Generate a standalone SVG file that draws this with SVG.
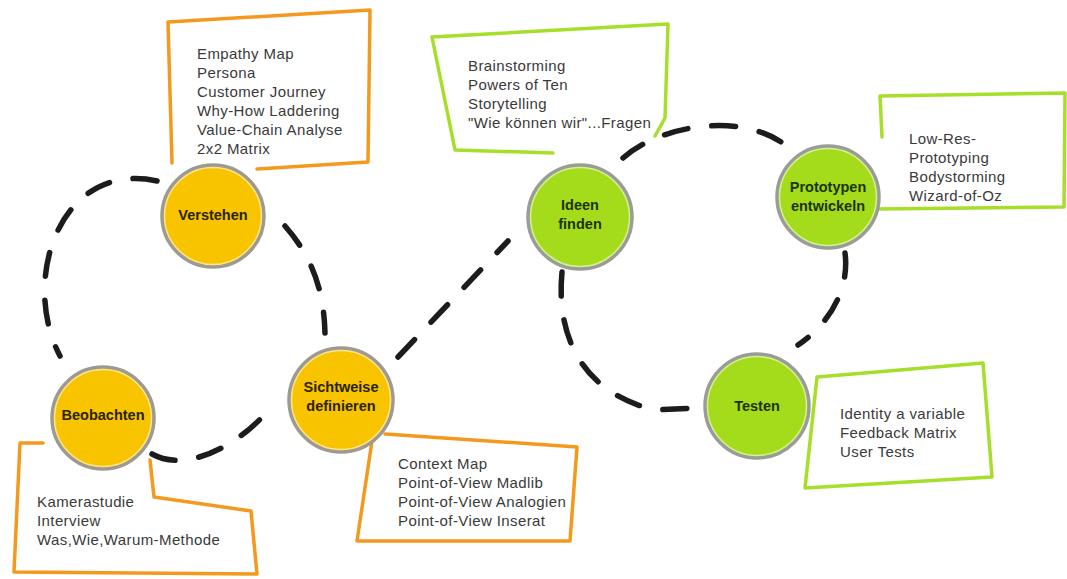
<svg xmlns="http://www.w3.org/2000/svg" width="1067" height="579" viewBox="0 0 1067 579">
<style>
.box{fill:none;stroke-width:3.5;stroke-linejoin:round;stroke-linecap:round}
.or{stroke:#F39A1E}
.gr{stroke:#A6DE2A}
.lst{font-family:"Liberation Sans",Arial,sans-serif;font-size:15px;letter-spacing:0.4px;fill:#3a3a3a}
.lbl{font-family:"Liberation Sans",Arial,sans-serif;font-size:14.5px;font-weight:bold;text-anchor:middle}
.yl{fill:#F8C400;stroke:#9d9a92;stroke-width:3.5}
.gn{fill:#A4DC1C;stroke:#9a9c96;stroke-width:3.5}
.hl{fill:none;stroke:#ffffff;stroke-opacity:0.55;stroke-width:1.5}
.dash{fill:none;stroke:#1c1c1c;stroke-width:5.5;stroke-linecap:round;stroke-dasharray:24 24}
</style>
<rect width="1067" height="579" fill="#ffffff"/>
<g id="connectors">
<path class="dash" d="M157,181 C60,160 20,280 60,356" stroke-dasharray="24 28"/>
<path class="dash" d="M285,226 C315,260 324,295 325,333" stroke-dasharray="26 22"/>
<path class="dash" d="M152,454 C190,475 245,440 272,406" stroke-dasharray="27 22"/>
<path class="dash" d="M398,357 L508,241" stroke-dasharray="30 26"/>
<path class="dash" d="M623,158 C660,125 740,112 784,144" stroke-dasharray="32 26"/>
<path class="dash" d="M845,253 C850,290 828,325 798,345" stroke-dasharray="46 22"/>
<path class="dash" d="M562,272 C555,345 590,395 655,410 L695,408" stroke-dasharray="40 30"/>
</g>
<g id="verstehen">
<path class="box or" d="M172,163 L168,22 L370,10 L368,162 L257,169"/>
<text class="lst" x="197" y="59">Empathy Map</text>
<text class="lst" x="197" y="78">Persona</text>
<text class="lst" x="197" y="97">Customer Journey</text>
<text class="lst" x="197" y="116">Why-How Laddering</text>
<text class="lst" x="197" y="135">Value-Chain Analyse</text>
<text class="lst" x="197" y="154">2x2 Matrix</text>
<circle class="yl" cx="213" cy="216" r="51"/>
<circle class="hl" cx="213" cy="216" r="48.5"/>
<text class="lbl" x="213" y="220" fill="#2a2300">Verstehen</text>
</g>
<g id="beobachten">
<path class="box or" d="M43,443 L20,443 L14,572 L257,574 L251,511 L154,497 L150,460"/>
<text class="lst" x="37" y="507">Kamerastudie</text>
<text class="lst" x="37" y="526">Interview</text>
<text class="lst" x="37" y="545">Was,Wie,Warum-Methode</text>
<circle class="yl" cx="103" cy="418" r="51"/>
<circle class="hl" cx="103" cy="418" r="48.5"/>
<text class="lbl" x="103" y="420" fill="#2a2300">Beobachten</text>
</g>
<g id="sichtweise">
<path class="box or" d="M385,434 L577,447 L570,541 L357,541 L372,441"/>
<text class="lst" x="398" y="469">Context Map</text>
<text class="lst" x="398" y="488">Point-of-View Madlib</text>
<text class="lst" x="398" y="507">Point-of-View Analogien</text>
<text class="lst" x="398" y="526">Point-of-View Inserat</text>
<circle class="yl" cx="341" cy="400" r="52"/>
<circle class="hl" cx="341" cy="400" r="49.5"/>
<text class="lbl" x="341" y="392" fill="#2a2300">Sichtweise</text>
<text class="lbl" x="341" y="411" fill="#2a2300">definieren</text>
</g>
<g id="ideen">
<path class="box gr" d="M553,153 L455,150 L432,37 L668,24 L665,118 L655,136"/>
<text class="lst" x="468" y="71">Brainstorming</text>
<text class="lst" x="468" y="90">Powers of Ten</text>
<text class="lst" x="468" y="109">Storytelling</text>
<text class="lst" x="468" y="128">"Wie können wir"...Fragen</text>
<circle class="gn" cx="580" cy="217" r="52"/>
<circle class="hl" cx="580" cy="217" r="49.5"/>
<text class="lbl" x="580" y="210" fill="#1c3300">Ideen</text>
<text class="lbl" x="580" y="229" fill="#1c3300">finden</text>
</g>
<g id="prototypen">
<path class="box gr" d="M882,137 L880,96 L1065,93 L1064,207 L877,209"/>
<text class="lst" x="909" y="144">Low-Res-</text>
<text class="lst" x="909" y="163">Prototyping</text>
<text class="lst" x="909" y="182">Bodystorming</text>
<text class="lst" x="909" y="201">Wizard-of-Oz</text>
<circle class="gn" cx="828" cy="197" r="51"/>
<circle class="hl" cx="828" cy="197" r="48.5"/>
<text class="lbl" x="828" y="192" fill="#1c3300">Prototypen</text>
<text class="lbl" x="828" y="211" fill="#1c3300">entwickeln</text>
</g>
<g id="testen">
<path class="box gr" d="M817,377 L983,363 L992,477 L805,488 L817,377"/>
<text class="lst" x="840" y="419">Identity a variable</text>
<text class="lst" x="840" y="438">Feedback Matrix</text>
<text class="lst" x="840" y="457">User Tests</text>
<circle class="gn" cx="757" cy="406" r="52"/>
<circle class="hl" cx="757" cy="406" r="49.5"/>
<text class="lbl" x="757" y="411" fill="#1c3300">Testen</text>
</g>
</svg>
